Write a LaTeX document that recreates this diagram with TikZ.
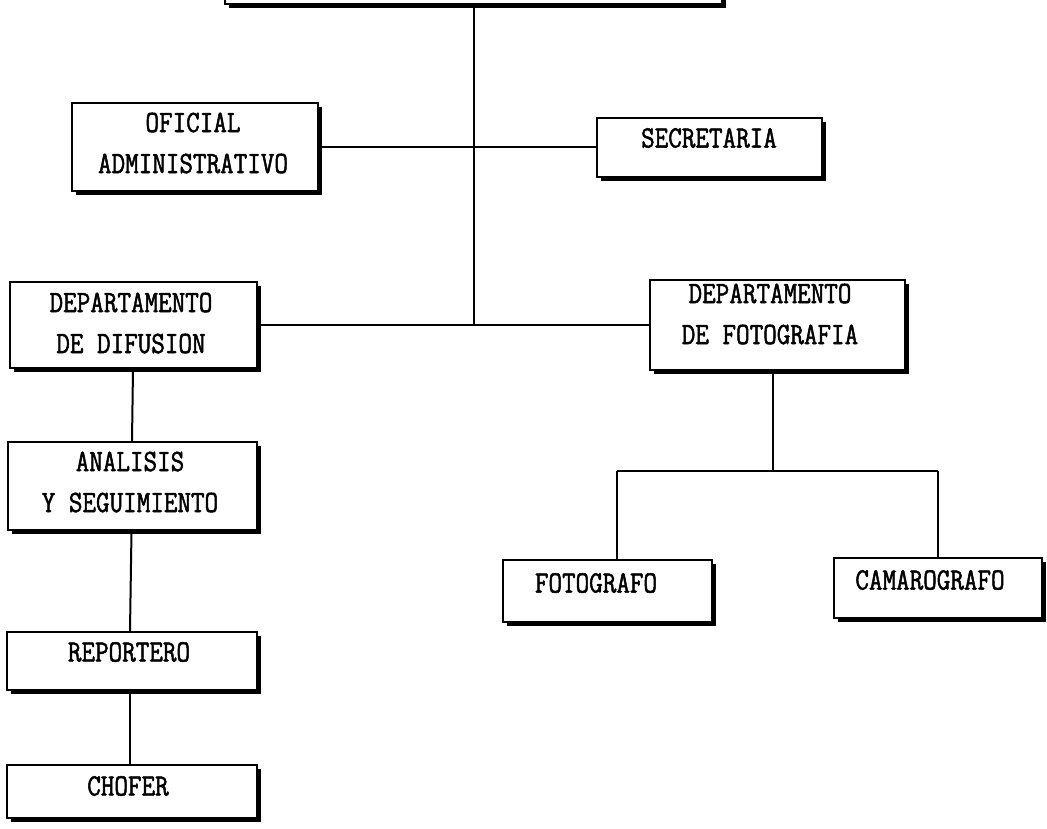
\documentclass[tikz,border=0pt]{standalone}
\usepackage{fontspec}
\usetikzlibrary{shadows}
\newfontfamily\orgfont{Latin Modern Mono}[FakeStretch=0.85,FakeBold=1.6]

\tikzset{
  unitbox/.style={draw=black, line width=2pt, fill=white,
    drop shadow={shadow xshift=4pt, shadow yshift=-4pt, fill=black, opacity=1},
    minimum width=#1, inner sep=0pt},
  boxh/.style={minimum height=#1},
  label text/.style={font=\orgfont\fontsize{31}{41}\selectfont, align=center, inner sep=0pt},
  link/.style={line width=2pt}
}

\begin{document}
\begin{tikzpicture}[x=1pt, y=-1pt]
  \clip (0,0) rectangle (1047,828);

  % top of the chart (cut at the page edge)
  \node[unitbox=497pt, boxh=80pt] (top) at (473.5,-36) {};

  % staff positions
  \node[unitbox=246pt, boxh=88pt] (oficial) at (195,147) {};
  \node[label text] (oficialT) at (193,143) {OFICIAL\\ADMINISTRATIVO};
  \node[unitbox=225pt, boxh=59pt] (secretaria) at (709.5,147.5) {};
  \node[label text] (secretariaT) at (709,138) {SECRETARIA};

  % departments
  \node[unitbox=247pt, boxh=86pt] (difusion) at (133.5,325) {};
  \node[label text] (difusionT) at (131,323) {DEPARTAMENTO\\DE DIFUSION};
  \node[unitbox=255pt, boxh=90pt] (fotografia) at (777.5,325) {};
  \node[label text] (fotografiaT) at (770,314) {DEPARTAMENTO\\DE FOTOGRAFIA};

  % difusion branch
  \node[unitbox=249pt, boxh=88pt] (analisis) at (132.5,486) {};
  \node[label text] (analisisT) at (130,482) {ANALISIS\\Y SEGUIMIENTO};
  \node[unitbox=250pt, boxh=58pt] (reportero) at (132,661) {};
  \node[label text] (reporteroT) at (129,652) {REPORTERO};
  \node[unitbox=250pt, boxh=53pt] (chofer) at (132,791.5) {};
  \node[label text] (choferT) at (128,786) {CHOFER};

  % fotografia branch
  \node[unitbox=209pt, boxh=62pt] (fotografo) at (607.5,591) {};
  \node[label text] (fotografoT) at (596,583) {FOTOGRAFO};
  \node[unitbox=208pt, boxh=60pt] (camarografo) at (938,588) {};
  \node[label text] (camarografoT) at (930,580) {CAMAROGRAFO};

  % junction points
  \coordinate (trunk) at (474,325);
  \coordinate (fsplit) at (773,471);
  \coordinate (fleft) at (617,471);
  \coordinate (fright) at (938,471);

  % connectors
  \draw[link] (top.south -| trunk) -- (trunk);
  \draw[link] (oficial.east) -- (oficial.east -| secretaria.west);
  \draw[link] (difusion.east) -- (fotografia.west);
  \draw[link] (fotografia.south -| fsplit) -- (fsplit);
  \draw[link] (fleft) -- (fright);
  \draw[link] (fleft) -- (fleft |- fotografo.north);
  \draw[link] (fright) -- (camarografo.north);
  \draw[link] ([xshift=-0.5pt]difusion.south) -- ([xshift=-0.5pt]analisis.north);
  \draw[link] ([xshift=-1pt]analisis.south) -- ([xshift=-2pt]reportero.north);
  \draw[link] ([xshift=-2pt]reportero.south) -- ([xshift=-2pt]chofer.north);
\end{tikzpicture}
\end{document}
